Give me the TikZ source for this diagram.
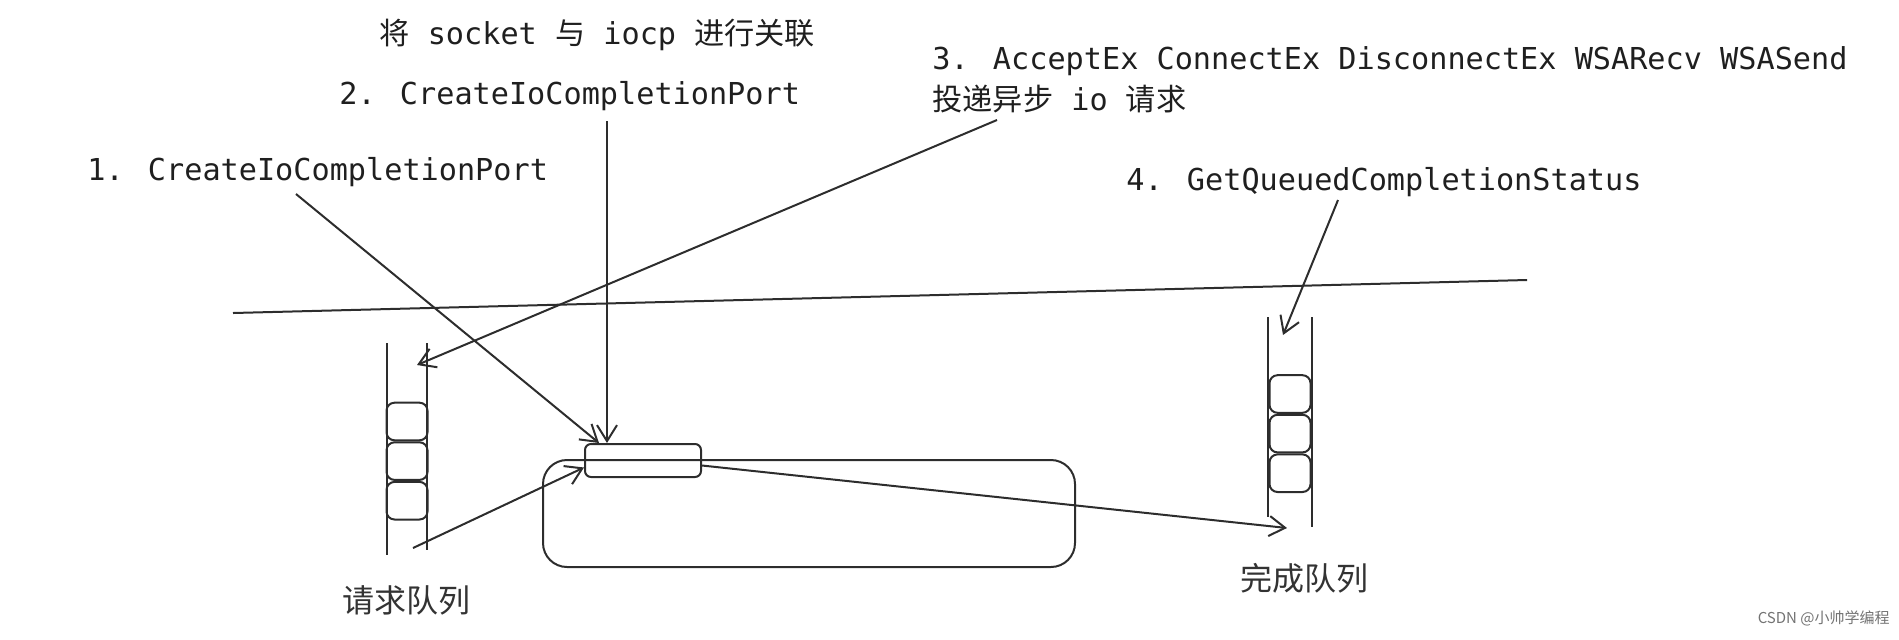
\documentclass[tikz,border=0pt]{standalone}
\usepackage{fontspec}
\setmainfont{DejaVu Sans Mono}
\newfontfamily\cjk{Noto Sans CJK SC}
\usetikzlibrary{arrows.meta,positioning}
\definecolor{inkgray}{RGB}{45,45,45}

\begin{document}
\begin{tikzpicture}[x=0.5pt,y=-0.5pt,>={Straight Barb[length=8pt,width=10pt]}]
\tikzset{
  lab/.style={font=\fontsize{15.1pt}{18pt}\selectfont,inner sep=0pt,anchor=base west,text=black!88},
  qlab/.style={font=\cjk\fontsize{16pt}{18pt}\selectfont,inner sep=0pt,text=black!80},
  cell/.style={draw=inkgray,line width=1pt,rounded corners=4pt,minimum width=20.5pt,minimum height=18.8pt,inner sep=0pt},
  rail/.style={draw=inkgray,line width=1pt},
  arr/.style={->,draw=inkgray,line width=1pt}
}
\useasboundingbox (0,0) rectangle (1899,639);
\node[lab] (assoc) at (379,44) {{\cjk 将} socket {\cjk 与} iocp {\cjk 进行关联}};
\node[lab] (lbl2) at (339,104) {2. CreateIoCompletionPort};
\node[lab] (lbl3) at (932,69) {3. AcceptEx ConnectEx DisconnectEx WSARecv WSASend};
\node[lab] (lbl3b) at (932,110) {{\cjk 投递异步} io {\cjk 请求}};
\node[lab] (lbl1) at (87,180) {1. CreateIoCompletionPort};
\node[lab] (lbl4) at (1126,190) {4. GetQueuedCompletionStatus};
\draw[rail] (233,313) -- (1527,280);
\draw[rail] (387,343) -- (387,555);
\draw[rail] (427,343) -- (427,550);
\node[cell] (rq1) at (407,421.5) {};
\node[cell,below=0pt of rq1] (rq2) {};
\node[cell,below=0pt of rq2] (rq3) {};
\draw[rail] (1268,317) -- (1268,517);
\draw[rail] (1312,317) -- (1312,527);
\node[cell] (cq1) at (1290,394) {};
\node[cell,below=0pt of cq1] (cq2) {};
\node[cell,below=0pt of cq2] (cq3) {};
\node[draw=inkgray,line width=1pt,rounded corners=12pt,minimum width=266pt,minimum height=53.5pt] (iocp) at (809,513.5) {};
\node[draw=inkgray,line width=1pt,rounded corners=3pt,minimum width=58pt,minimum height=16.5pt] (port) at (643,460.5) {};
\coordinate (s1) at (296,194);
\coordinate (s2) at (607,121);
\coordinate (s3) at (997,120);
\coordinate (s4) at (1338,200);
\coordinate (rqin) at (417,365);
\coordinate (rqout) at (413,548);
\coordinate (cqin) at (1283,335);
\coordinate (cqout) at (1287,528);
\draw[arr] (s1) -- ([xshift=7.5pt]port.north west);
\draw[arr] (s2) -- (s2 |- port.north);
\draw[arr] (s3) -- (rqin);
\draw[arr] (s4) -- (cqin);
\draw[arr] (rqout) -- ([yshift=-3.5pt]port.west);
\draw[arr] ([yshift=-2.5pt]port.east) -- (cqout);
\node[qlab] (rqlab) at (406,600) {请求队列};
\node[qlab] (cqlab) at (1304,578) {完成队列};
\node[font=\cjk\fontsize{7.5pt}{9pt}\selectfont,inner sep=0pt,anchor=east,text=black!55] (mark) at (1890,618) {CSDN @小帅学编程};
\end{tikzpicture}
\end{document}
